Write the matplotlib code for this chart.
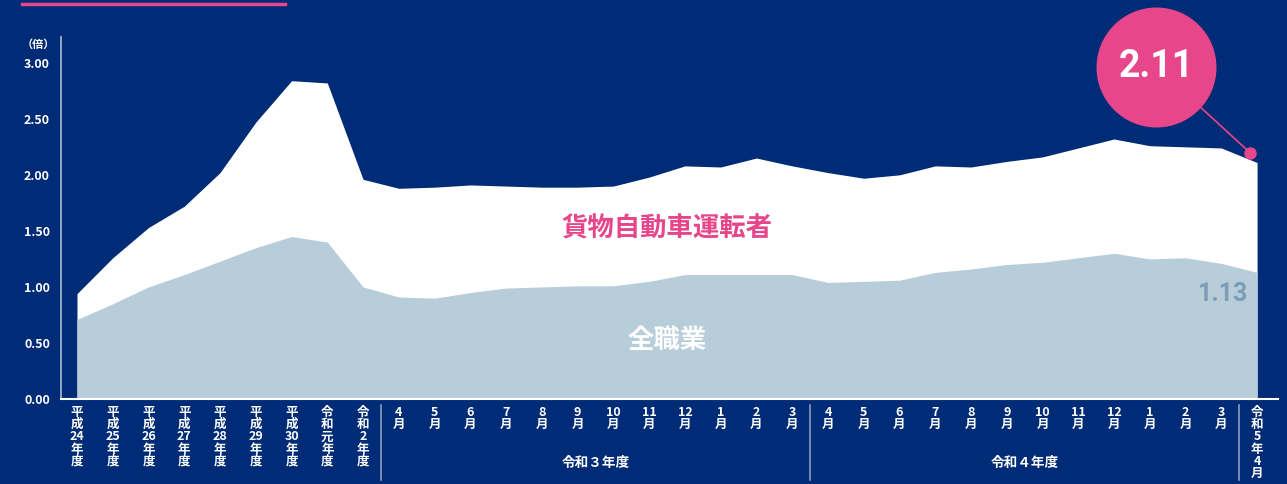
import re
import matplotlib
matplotlib.use("Agg")
import matplotlib.pyplot as plt
import matplotlib.transforms as mtransforms

plt.rcParams['font.family'] = ['Noto Sans CJK JP', 'DejaVu Sans']

# ---------------- data ----------------
categories = (['平成24年度', '平成25年度', '平成26年度', '平成27年度', '平成28年度',
               '平成29年度', '平成30年度', '令和元年度', '令和2年度']
              + ['4月', '5月', '6月', '7月', '8月', '9月', '10月', '11月', '12月', '1月', '2月', '3月']
              + ['4月', '5月', '6月', '7月', '8月', '9月', '10月', '11月', '12月', '1月', '2月', '3月']
              + ['令和5年4月'])
truck_drivers = [0.94, 1.26, 1.53, 1.72, 2.02, 2.47, 2.84, 2.82, 1.96,
                 1.88, 1.89, 1.91, 1.90, 1.89, 1.89, 1.90, 1.98, 2.08, 2.07, 2.15, 2.08,
                 2.02, 1.97, 2.00, 2.08, 2.07, 2.12, 2.16, 2.24, 2.32, 2.26, 2.25, 2.24,
                 2.11]
all_jobs = [0.71, 0.85, 1.00, 1.11, 1.23, 1.35, 1.45, 1.40, 1.00,
            0.91, 0.90, 0.95, 0.99, 1.00, 1.01, 1.01, 1.05, 1.11, 1.11, 1.11, 1.11,
            1.04, 1.05, 1.06, 1.13, 1.16, 1.20, 1.22, 1.26, 1.30, 1.25, 1.26, 1.21,
            1.13]
group_labels = ['令和３年度', '令和４年度']
group_ranges = [(9, 20), (21, 32)]
separators = [8.5, 20.5, 32.5]
y_ticks = [0.0, 0.5, 1.0, 1.5, 2.0, 2.5, 3.0]
series_names = ['貨物自動車運転者', '全職業']

# ---------------- style ----------------
NAVY = '#002b76'
PINK = '#e8468b'
LIGHT = '#b8cdda'
LABEL_BLUE = '#7d9db5'

W, H = 1287, 484
fig = plt.figure(figsize=(W / 100, H / 100), dpi=100, facecolor=NAVY)

# axes placement (pixels)
ax_l, ax_r, ax_b, ax_t = 61, 1278, 399, 37
ax = fig.add_axes([ax_l / W, (H - ax_b) / H, (ax_r - ax_l) / W, (ax_b - ax_t) / H])
ax.set_facecolor(NAVY)

n = len(categories)
x = list(range(n))
ax.set_xlim(-0.447, 33.585)
ax.set_ylim(0, 3.23)

ax.fill_between(x, 0, truck_drivers, color='white', lw=0)
ax.fill_between(x, 0, all_jobs, color=LIGHT, lw=0)

for s in ['top', 'right']:
    ax.spines[s].set_visible(False)
ax.spines['left'].set_color('#9fb0cc')
ax.spines['left'].set_linewidth(1.3)
ax.spines['bottom'].set_color('white')
ax.spines['bottom'].set_linewidth(1.5)

ax.set_xticks([])
ax.set_yticks(y_ticks)
ax.set_yticklabels([f'{v:.2f}' for v in y_ticks], color='white',
                   fontsize=9, fontweight='bold')
ax.tick_params(axis='y', length=0, pad=8)

bt = mtransforms.blended_transform_factory(ax.transData, ax.transAxes)

# x labels stacked vertically
def vertical(s):
    return '\n'.join(re.findall(r'\d+|.', s))

for i, lab in enumerate(categories):
    ax.annotate(vertical(lab), xy=(i, 0), xycoords=('data', 'axes fraction'),
                xytext=(0, -5), textcoords='offset points', ha='center', va='top',
                color='white', fontsize=9, fontweight='bold', linespacing=0.92,
                annotation_clip=False)

for sx in separators:
    ax.plot([sx, sx], [-0.016, -0.225], transform=bt,
            color='#8d9cc0', lw=1.2, clip_on=False)

for lab, (a, b) in zip(group_labels, group_ranges):
    ax.annotate(' '.join(lab[:2]) + ' ' + lab[2] + ' ' + ' '.join(lab[3:]) if False else lab,
                xy=((a + b) / 2, 0), xycoords=('data', 'axes fraction'),
                xytext=(0, -46), textcoords='offset points', ha='center', va='center',
                color='white', fontsize=9.8, fontweight='bold', annotation_clip=False)

# series labels
ax.text(16.5, 1.52, series_names[0], color=PINK, fontsize=19, fontweight='bold',
        ha='center', va='center')
ax.text(16.5, 0.52, series_names[1], color='white', fontsize=19, fontweight='bold',
        ha='center', va='center')
ax.text(33 - 0.25, all_jobs[-1] - 0.09, f'{all_jobs[-1]:.2f}', color=LABEL_BLUE,
        fontsize=18, fontweight='bold', ha='right', va='top', family=['Roboto', 'DejaVu Sans'])

# "(倍)" unit label
fig.text(22 / W, 1 - 44 / H, '（倍）', color='white', fontsize=8, fontweight='bold',
         ha='left', va='center')

# top pink line
fig.add_artist(plt.Line2D([22 / W, 285 / W], [1 - 4 / H, 1 - 4 / H], color=PINK, lw=2.5))

# callout bubble for last truck value
last = n - 1
dot_tr = mtransforms.offset_copy(ax.transData, fig=fig, x=-5, y=7, units='points')
ax.plot([last], [truck_drivers[-1]], 'o', color=PINK, ms=8, transform=dot_tr, clip_on=False, zorder=5)
bubble_tr = mtransforms.offset_copy(ax.transData, fig=fig, x=-72.5, y=69, units='points')
circ_r = 60 / 100 * 72  # points
ax.plot([last], [truck_drivers[-1]], 'o', color=PINK, ms=2 * circ_r, mew=0,
        transform=bubble_tr, clip_on=False, zorder=6)
ax.annotate('', xy=(last, truck_drivers[-1]), xycoords=dot_tr,
            xytext=(last, truck_drivers[-1]), textcoords=bubble_tr,
            arrowprops=dict(arrowstyle='-', color=PINK, lw=1.2, shrinkA=circ_r, shrinkB=0),
            annotation_clip=False, zorder=4)
ax.text(last, truck_drivers[-1], f'{truck_drivers[-1]:.2f}', transform=bubble_tr,
        ha='center', va='center', color='white', fontsize=27, fontweight='bold',
        family=['Roboto', 'DejaVu Sans'], zorder=7)

fig.savefig('out.png', dpi=100, facecolor=NAVY)
